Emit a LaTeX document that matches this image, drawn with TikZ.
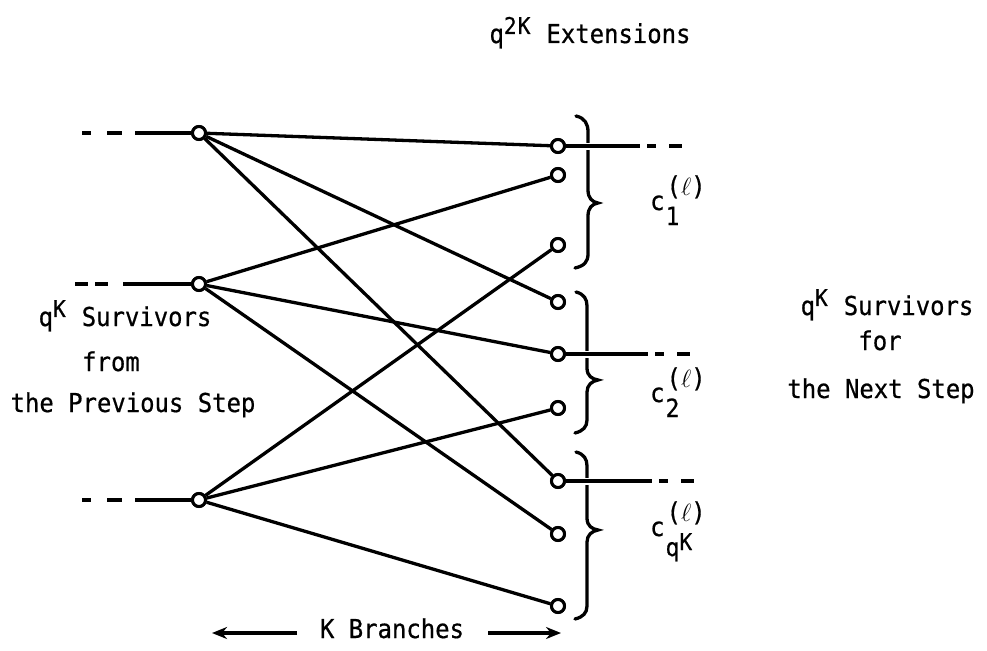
\documentclass[tikz,border=0pt]{standalone}
\usepackage{fontspec}
\setmainfont[FakeStretch=0.92,FakeBold=0.6]{DejaVu Sans Mono}
\usetikzlibrary{arrows.meta}
\DeclareMathSizes{26}{26}{23}{18}
\newcommand\clabel[2]{c\rlap{\hspace{1pt}\raisebox{-#1}{\fontsize{25}{25}\selectfont #2}}\hspace{2pt}\raisebox{15pt}{\fontsize{26}{26}\selectfont(\(\ell\))}}
\tikzset{
  pt/.style={circle,draw,fill=white,inner sep=0pt,minimum size=13pt,line width=3pt},
  edge/.style={line width=3.3pt},
  lead/.style={line width=3.3pt},
  ldash/.style={line width=3.3pt,dash pattern=on 9pt off 16pt on 15pt off 100pt},
  rdash/.style={line width=3.3pt,dash pattern=on 0pt off 7pt on 9pt off 13pt on 13pt off 100pt},
  brace/.style={line width=3.3pt,line cap=round},
  txt/.style={inner sep=0pt,anchor=base,font=\fontsize{26}{30}\selectfont},
  lab/.style={inner sep=0pt,anchor=base west,font=\fontsize{26}{30}\selectfont},
  arr/.style={line width=3.6pt,-{Stealth[length=15pt,width=12pt]}}
}
\begin{document}
\begin{tikzpicture}[x=1pt,y=-1pt]
\useasboundingbox (0,0) rectangle (987,650);
% left nodes
\node[pt] (L1) at (199,133) {};
\node[pt] (L2) at (199,284) {};
\node[pt] (L3) at (199,500) {};
% right nodes
\node[pt] (R1) at (558,146) {};
\node[pt] (R2) at (558,175) {};
\node[pt] (R3) at (558,245) {};
\node[pt] (R4) at (558,302) {};
\node[pt] (R5) at (558,354) {};
\node[pt] (R6) at (558,408) {};
\node[pt] (R7) at (558,481) {};
\node[pt] (R8) at (558,534) {};
\node[pt] (R9) at (558,606) {};
% braces
\draw[brace] (576,116) .. controls (585,118) and (588,124) .. (588,132) -- (588,190)
  .. controls (588,198) and (592,202) .. (598,203) .. controls (592,204) and (588,208) .. (588,216)
  -- (588,254) .. controls (588,262) and (584,266) .. (575,268);
\draw[brace] (576,292) .. controls (584,294) and (587,299) .. (587,306) -- (587,368)
  .. controls (587,376) and (592,379) .. (598,380) .. controls (592,381) and (587,385) .. (587,392)
  -- (587,420) .. controls (587,427) and (583,431) .. (575,433);
\draw[brace] (576,452) .. controls (584,454) and (587,459) .. (587,466) -- (587,518)
  .. controls (587,526) and (592,529) .. (598,530) .. controls (592,531) and (587,535) .. (587,542)
  -- (587,606) .. controls (587,613) and (583,617) .. (575,619);
% left leads
\coordinate (a1) at (82,133); \coordinate (b1) at (135,133);
\coordinate (a2) at (75,284); \coordinate (b2) at (123,284);
\coordinate (a3) at (82,500); \coordinate (b3) at (135,500);
\draw[ldash] (a1) -- (b1);
\draw[lead] (b1) -- (L1);
\draw[ldash,dash pattern=on 13pt off 7pt on 13pt off 100pt] (a2) -- (b2);
\draw[lead] (b2) -- (L2);
\draw[ldash] (a3) -- (b3);
\draw[lead] (b3) -- (L3);
% right leads (survivors)
\coordinate (s1) at (640,146); \coordinate (t1) at (684,146);
\coordinate (s5) at (648,354); \coordinate (t5) at (690,354);
\coordinate (s7) at (652,481); \coordinate (t7) at (694,481);
\draw[lead,preaction={draw=white,line width=7pt}] (R1) -- (s1);
\draw[rdash] (s1) -- (t1);
\draw[lead,preaction={draw=white,line width=7pt}] (R5) -- (s5);
\draw[rdash] (s5) -- (t5);
\draw[lead,preaction={draw=white,line width=7pt}] (R7) -- (s7);
\draw[rdash] (s7) -- (t7);
% extension edges
\draw[edge] (L1) -- (R1);
\draw[edge] (L1) -- (R4);
\draw[edge] (L1) -- (R7);
\draw[edge] (L2) -- (R2);
\draw[edge] (L2) -- (R5);
\draw[edge] (L2) -- (R8);
\draw[edge] (L3) -- (R3);
\draw[edge] (L3) -- (R6);
\draw[edge] (L3) -- (R9);
% redraw nodes on top
\foreach \n in {L1,L2,L3,R1,R2,R3,R4,R5,R6,R7,R8,R9}
  \node[pt] at (\n) {};
% texts
\node[txt] (ext) at (590,43) {q$^{\mathrm{2K}}$ Extensions};
\node[txt] (lt1) at (125,326) {q$^{\mathrm{K}}$ Survivors};
\node[txt] (lt2) at (111,371) {from};
\node[txt] (lt3) at (133,412) {the Previous Step};
\node[txt] (rt1) at (887,315) {q$^{\mathrm{K}}$ Survivors};
\node[txt] (rt2) at (880,350) {for};
\node[txt] (rt3) at (881,398) {the Next Step};
\node[lab] (c1) at (650,210) {\clabel{15pt}{1}};
\node[lab] (c2) at (650,402) {\clabel{15pt}{2}};
\node[lab] (c3) at (650,536) {\clabel{20pt}{q\raisebox{6pt}{\fontsize{23}{23}\selectfont K}}};
% K branches
\node[txt] (kb) at (392,638) {K Branches};
\coordinate (la) at (297,633); \coordinate (lb) at (212,633);
\coordinate (ra) at (488,633); \coordinate (rb) at (561,633);
\draw[arr] (la) -- (lb);
\draw[arr] (ra) -- (rb);
\end{tikzpicture}
\end{document}
